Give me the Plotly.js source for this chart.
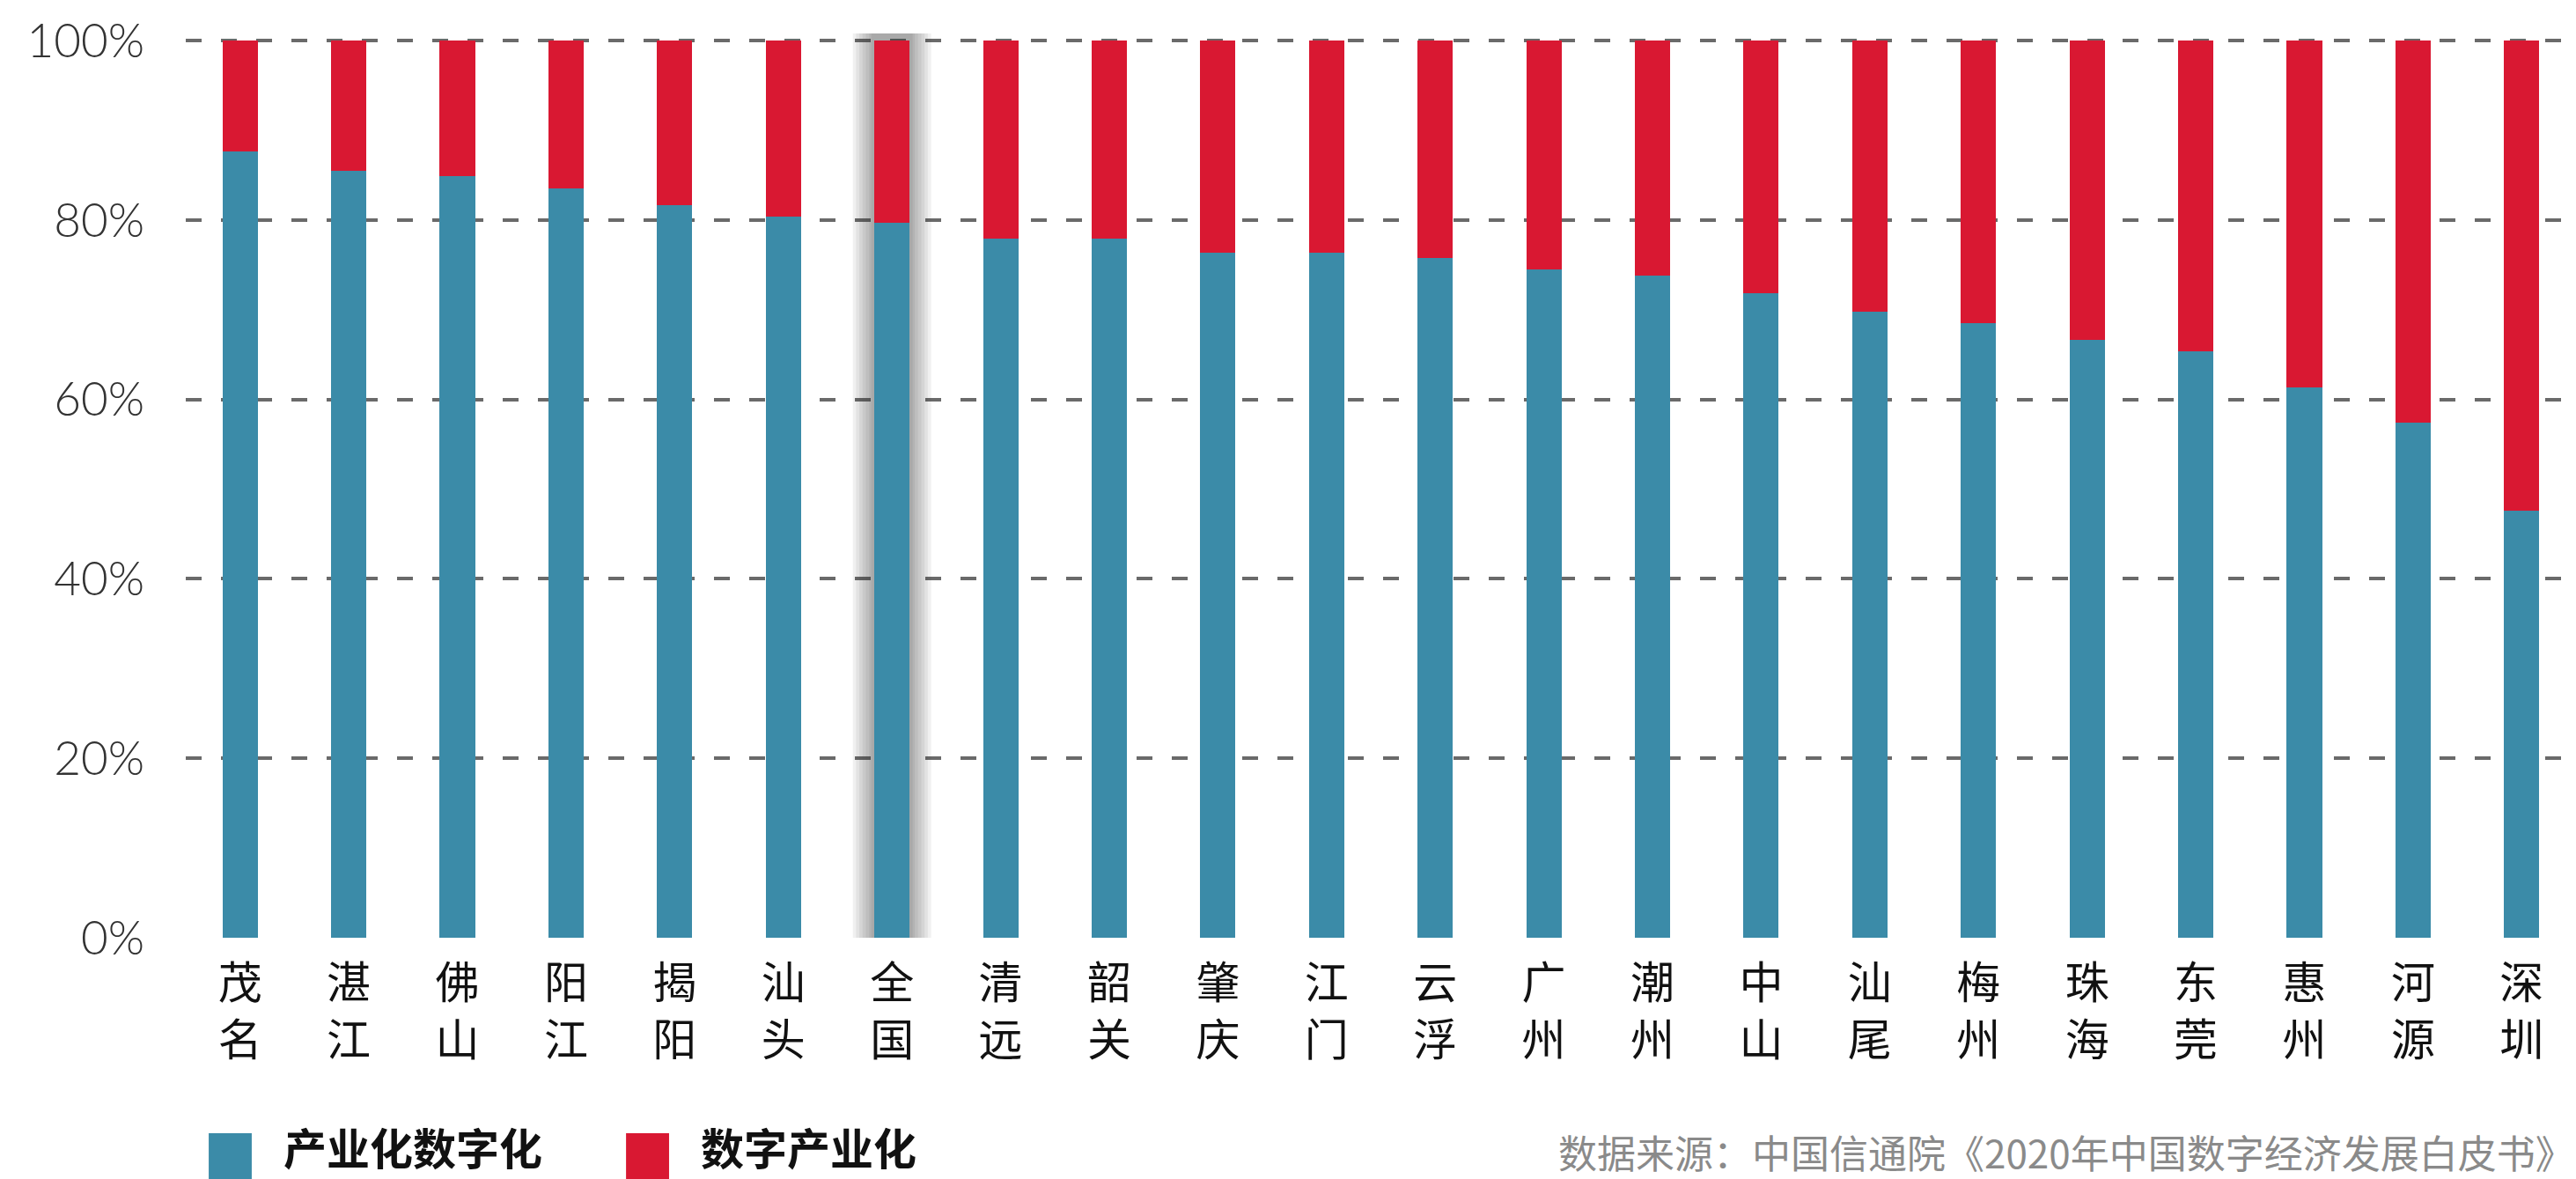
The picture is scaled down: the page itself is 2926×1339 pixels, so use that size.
<!DOCTYPE html>
<html>
<head>
<meta charset="utf-8">
<script src="https://cdn.plot.ly/plotly-3.0.1.min.js"></script>
<style>
html,body{margin:0;padding:0;background:#fff;}
#chart{width:2926px;height:1339px;}
</style>
</head>
<body>
<div id="chart"></div>
<script>
// ---- data ----
var cities = ["茂名","湛江","佛山","阳江","揭阳","汕头","全国","清远","韶关","肇庆","江门","云浮","广州","潮州","中山","汕尾","梅州","珠海","东莞","惠州","河源","深圳"];
var industryDigitization = [87.7,85.5,84.9,83.5,81.7,80.4,79.7,77.9,77.9,76.4,76.4,75.8,74.5,73.8,71.8,69.8,68.5,66.6,65.4,61.3,57.4,47.6];
var digitalIndustrialization = [12.3,14.5,15.1,16.5,18.3,19.6,20.3,22.1,22.1,23.6,23.6,24.2,25.5,26.2,28.2,30.2,31.5,33.4,34.6,38.7,42.6,52.4];
var seriesNames = ["产业化数字化","数字产业化"];
var yTickVals = [0,20,40,60,80,100];
var yTickText = ["0%","20%","40%","60%","80%","100%"];
var highlightCity = "全国";
var sourceText = "数据来源：中国信通院《2020年中国数字经济发展白皮书》";

var BLUE = "#3b8ba8", RED = "#d91832";

var traces = [
  {type:"bar", name:seriesNames[0], x:cities, y:industryDigitization,
   marker:{color:BLUE, line:{width:0}}, hoverinfo:"none", showlegend:false},
  {type:"bar", name:seriesNames[1], x:cities, y:digitalIndustrialization,
   marker:{color:RED, line:{width:0}}, hoverinfo:"none", showlegend:false}
];

// soft shadow behind highlighted bar
var hi = cities.indexOf(highlightCity);
var shapes = [];
[0.36,0.33,0.30,0.27,0.24,0.21,0.19].forEach(function(hw){
  shapes.push({type:"rect", xref:"x", yref:"y", x0:hi-hw, x1:hi+hw, y0:0, y1:100.8,
    fillcolor:"rgba(60,60,60,0.075)", line:{width:0}, layer:"between"});
});

// custom legend swatches
shapes.push({type:"rect", xref:"paper", yref:"paper", x0:0.0096, x1:0.0276, y0:-0.272, y1:-0.2157,
  fillcolor:BLUE, line:{width:0}});
shapes.push({type:"rect", xref:"paper", yref:"paper", x0:0.1842, x1:0.2022, y0:-0.272, y1:-0.2157,
  fillcolor:RED, line:{width:0}});

var annotations = [
  {xref:"paper", yref:"paper", x:0.0401, y:-0.230, xanchor:"left", yanchor:"middle", showarrow:false,
   text:seriesNames[0], font:{family:"Noto Sans CJK SC", size:49, color:"#111", weight:700}},
  {xref:"paper", yref:"paper", x:0.2147, y:-0.230, xanchor:"left", yanchor:"middle", showarrow:false,
   text:seriesNames[1], font:{family:"Noto Sans CJK SC", size:49, color:"#111", weight:700}},
  {xref:"paper", yref:"paper", x:0.5735, y:-0.236, xanchor:"left", yanchor:"middle", showarrow:false,
   text:sourceText, font:{family:"Noto Sans CJK SC", size:44, color:"#8a8a8a"}}
];

var layout = {
  width:2926, height:1339,
  margin:{l:211, r:0, t:36, b:274, pad:0},
  paper_bgcolor:"#ffffff", plot_bgcolor:"#ffffff",
  barmode:"stack", bargap:0.675,
  showlegend:false,
  xaxis:{type:"category", range:[-0.5,21.5], showgrid:false, zeroline:false, showline:false,
    ticks:"", tickmode:"array", tickvals:cities,
    ticktext:cities.map(function(c){return c.split("").join("<br>");}),
    tickfont:{family:"Noto Sans CJK SC", size:50, color:"#111"}, ticklabelstandoff:18},
  yaxis:{range:[0,101], tickmode:"array", tickvals:yTickVals, ticktext:yTickText,
    showgrid:true, gridcolor:"#6a6a6a", gridwidth:4, griddash:"18px,22px",
    zeroline:false, showline:false, ticks:"",
    tickfont:{family:"Lato", size:53, color:"#333", weight:300}, ticklabelstandoff:46},
  shapes:shapes,
  annotations:annotations
};

Plotly.newPlot("chart", traces, layout, {staticPlot:true, displayModeBar:false});
</script>
</body>
</html>
